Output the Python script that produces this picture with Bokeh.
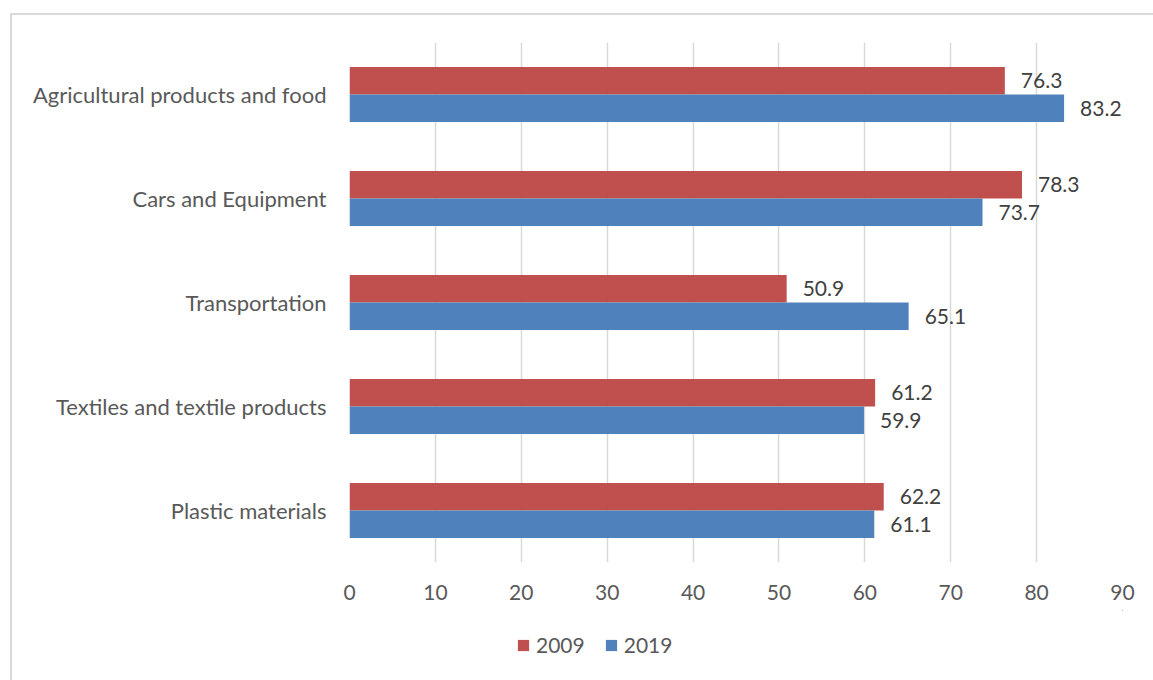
from bokeh.plotting import figure
from bokeh.layouts import column
from bokeh.models import (ColumnDataSource, FactorRange, Legend, LegendItem, LabelSet, FixedTicker,
                          Range1d)
from bokeh.core.properties import value
from bokeh.transform import dodge
from bokeh.embed import file_html
from bokeh.resources import INLINE

categories = ["Agricultural products and food", "Cars and Equipment", "Transportation",
              "Textiles and textile products", "Plastic materials"]
values_2009 = [76.3, 78.3, 50.9, 61.2, 62.2]
values_2019 = [83.2, 73.7, 65.1, 59.9, 61.1]
series_names = ["2009", "2019"]
x_ticks = [0, 10, 20, 30, 40, 50, 60, 70, 80, 90]

RED = "#C0504D"
BLUE = "#4F81BD"
TXT = "#595959"
FONT = "Lato"

src = ColumnDataSource(dict(
    cat=categories,
    v09=values_2009,
    v19=values_2019,
    l09=[f"{v:.1f}" for v in values_2009],
    l19=[f"{v:.1f}" for v in values_2019],
))

OX, OY = 12, 15  # canvas origin inside the bordered host
W = 1153 - OX
MAIN_BOTTOM = 610
FRAME_LEFT = 349

p = figure(width=W, height=MAIN_BOTTOM - OY, output_backend="svg", toolbar_location=None,
           y_range=FactorRange(factors=list(reversed(categories)), range_padding=0),
           x_range=(0, 90), min_border_left=FRAME_LEFT - OX, min_border_right=31,
           min_border_top=42 - OY, min_border_bottom=MAIN_BOTTOM - 562)
p.outline_line_color = None
p.background_fill_color = "white"
p.border_fill_color = "white"

BH = 0.265
r09 = p.hbar(y=dodge("cat", 0.1325, range=p.y_range), right="v09", left=0, height=BH,
             fill_color=RED, line_color=None, source=src)
r19 = p.hbar(y=dodge("cat", -0.1325, range=p.y_range), right="v19", left=0, height=BH,
             fill_color=BLUE, line_color=None, source=src)

lab_kw = dict(x_offset=16, text_font_size=value("21px"), text_color="#404040",
              text_font=value(FONT), text_baseline="middle", source=src)
p.add_layout(LabelSet(x="v09", y=dodge("cat", 0.1325, range=p.y_range), text="l09", **lab_kw))
p.add_layout(LabelSet(x="v19", y=dodge("cat", -0.1325, range=p.y_range), text="l19", **lab_kw))

# axes
p.xaxis.ticker = FixedTicker(ticks=x_ticks)
p.xaxis.axis_line_color = None
p.xaxis.major_tick_line_color = None
p.xaxis.minor_tick_line_color = None
p.xaxis.major_label_text_font_size = "21px"
p.xaxis.major_label_text_color = TXT
p.xaxis.major_label_text_font = FONT
p.xaxis.major_label_standoff = 16

p.yaxis.axis_line_color = None
p.yaxis.major_tick_line_color = None
p.yaxis.minor_tick_line_color = None
p.yaxis.major_label_text_font_size = "22px"
p.yaxis.major_label_text_color = TXT
p.yaxis.major_label_text_font = FONT
p.yaxis.major_label_standoff = 17

p.ygrid.grid_line_color = None
p.xgrid.grid_line_color = "#d9d9d9"
p.xgrid.grid_line_width = 1.5

# legend strip below the plot
LH = 680 - MAIN_BOTTOM
lf = figure(width=W, height=LH, output_backend="svg", toolbar_location=None,
            x_range=Range1d(0, 1), y_range=Range1d(0, 1),
            x_axis_type=None, y_axis_type=None, min_border=0)
lf.outline_line_color = None
lf.grid.grid_line_color = None
lf.border_fill_color = "white"
lf.background_fill_color = "white"
# swatch-only renderers: zero-size bars that lie outside this strip's 0..1 ranges
g09 = lf.hbar(y="v09", left="v09", right="v09", height=0, fill_color=RED, line_color=None,
              source=src)
g19 = lf.hbar(y="v19", left="v19", right="v19", height=0, fill_color=BLUE, line_color=None,
              source=src)
legend = Legend(items=[LegendItem(label=series_names[0], renderers=[g09]),
                       LegendItem(label=series_names[1], renderers=[g19])],
                orientation="horizontal", location=(516 - FRAME_LEFT, LH - (657 - MAIN_BOTTOM)),
                label_text_font_size="21px", label_text_color=TXT, label_text_font=FONT,
                glyph_width=14, glyph_height=14, spacing=19, label_standoff=6,
                border_line_color=None, background_fill_alpha=0,
                margin=0, padding=0, label_height=22)
lf.add_layout(legend)

layout = column(p, lf, spacing=0)
layout.margin = (13, 0, 0, 10)
layout.styles = {"border-left": "2px solid #d9d9d9", "border-top": "2px solid #d9d9d9",
                 "background-color": "white"}

open("out.html", "w").write(file_html(layout, INLINE))
